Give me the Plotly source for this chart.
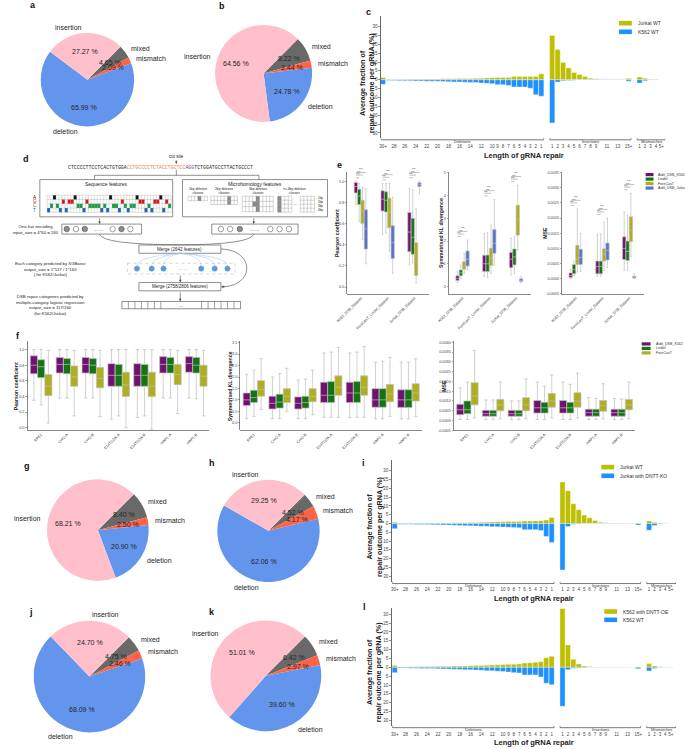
import math
import plotly.graph_objects as go

W, H = 685, 749
FONT = "Liberation Sans, Arial, Helvetica, sans-serif"
MONO = "Liberation Mono, DejaVu Sans Mono, monospace"

# ======================= DATA =======================
pie_labels = ["insertion", "deletion", "mismatch", "mixed"]
pie_colors = ["#FFC0CB", "#6495ED", "#FF6347", "#696969"]
pie_a = [27.27, 65.99, 2.09, 4.65]
pie_b = [64.56, 24.78, 2.44, 8.22]
pie_g = [68.21, 20.90, 2.50, 8.40]
pie_h = [29.25, 62.06, 4.17, 4.52]
pie_j = [24.70, 68.09, 2.46, 4.75]
pie_k = [51.01, 39.60, 2.97, 6.42]

del_cats = ["30+", "29", "28", "27", "26", "25", "24", "23", "22", "21", "20", "19", "18", "17", "16",
            "15", "14", "13", "12", "11", "10", "9", "8", "7", "6", "5", "4", "3", "2", "1"]
ins_cats = ["1", "2", "3", "4", "5", "6", "7", "8", "9", "10", "11", "12", "13", "14", "15+"]
mm_cats = ["1", "2", "3", "4", "5+"]
del_ticks = ["30+", "28", "26", "24", "22", "20", "18", "16", "14", "12", "10", "9", "8", "7", "6",
             "5", "4", "3", "2", "1"]
ins_ticks = ["1", "2", "3", "4", "5", "6", "7", "8", "9", "11", "13", "15+"]
mm_ticks = ["1", "2", "3", "4", "5+"]
group_names = ["Deletions", "Insertions", "Mismatches"]
bar_yticks = [-30, -25, -20, -15, -10, -5, 0, 5, 10, 15, 20, 25, 30]

# panel c
c_names = ["Jurkat WT", "K562 WT"]
c_up_del = [1.3, 0.15, 0.2, 0.2, 0.25, 0.3, 0.3, 0.35, 0.4, 0.4, 0.45, 0.5, 0.55, 0.6, 0.65,
            0.7, 0.75, 0.8, 0.9, 1.0, 1.2, 1.25, 1.3, 1.3, 1.9, 1.9, 1.9, 1.9, 1.9, 3.4]
c_dn_del = [-2.6, -0.4, -0.45, -0.5, -0.55, -0.6, -0.65, -0.7, -0.8, -0.85, -0.9, -1.0, -1.1, -1.2, -1.3,
            -1.4, -1.5, -1.6, -1.9, -2.0, -2.2, -2.8, -2.8, -3.2, -4.1, -4.1, -4.1, -4.8, -8.4, -9.3]
c_up_ins = [25.0, 17.0, 9.7, 6.7, 4.1, 3.0, 1.9, 0.9, 0.5, 0.3, 0.2, 0.15, 0.1, 0.1, 0.8]
c_dn_ins = [-24.4, -1.3, -0.5, -0.4, -0.3, -0.2, -0.15, -0.1, -0.1, -0.1, -0.1, -0.1, -0.1, -0.1, -0.8]
c_up_mm = [1.5, 0.8, 0.3, 0.1, 0.05]
c_dn_mm = [-1.9, -0.6, -0.2, -0.1, -0.05]

# panel i
i_names = ["Jurkat WT", "Jurkat with DNTT-KO"]
i_up_del = [0.8, 0.15, 0.15, 0.2, 0.2, 0.25, 0.25, 0.3, 0.3, 0.35, 0.35, 0.4, 0.45, 0.5, 0.55,
            0.6, 0.7, 0.8, 0.9, 1.0, 1.0, 1.1, 1.1, 1.2, 1.4, 1.5, 1.5, 1.6, 2.0, 3.5]
i_dn_del = [-3.0, -0.4, -0.4, -0.45, -0.5, -0.55, -0.6, -0.7, -0.75, -0.8, -0.9, -1.0, -1.1, -1.2, -1.3,
            -1.4, -1.5, -1.6, -1.8, -1.9, -2.0, -2.1, -2.2, -2.4, -3.5, -3.5, -3.5, -4.0, -7.4, -10.8]
i_up_ins = [23.7, 18.7, 11.3, 7.8, 4.8, 3.3, 1.7, 0.8, 0.4, 0.3, 0.2, 0.1, 0.1, 0.1, 0.2]
i_dn_ins = [-26.5, -1.7, -0.4, -0.3, -0.1, -0.1, -0.1, -0.1, -0.1, -0.1, -0.1, -0.1, -0.1, -0.1, -0.8]
i_up_mm = [1.5, 0.8, 0.3, 0.1, 0.05]
i_dn_mm = [-3.8, -1.1, -0.2, -0.1, -0.05]

# panel l
l_names = ["K562 with DNTT-OE", "K562 WT"]
l_up_del = [1.1, 0.2, 0.25, 0.3, 0.35, 0.4, 0.45, 0.5, 0.55, 0.6, 0.65, 0.7, 0.75, 0.8, 0.9,
            1.0, 1.1, 1.2, 1.3, 1.4, 1.6, 1.7, 1.8, 1.9, 2.4, 2.6, 2.8, 3.2, 5.4, 6.2]
l_dn_del = [-3.0, -0.4, -0.45, -0.5, -0.55, -0.6, -0.65, -0.7, -0.8, -0.9, -1.0, -1.1, -1.2, -1.3, -1.4,
            -1.5, -1.7, -1.9, -2.0, -2.2, -2.4, -2.7, -3.0, -3.2, -4.3, -4.3, -4.3, -5.4, -9.0, -9.8]
l_up_ins = [33.2, 12.6, 4.5, 1.9, 0.8, 0.4, 0.2, 0.1, 0.1, 0.1, 0.1, 0.1, 0.1, 0.1, 0.1]
l_dn_ins = [-22.0, -1.3, -0.5, -0.4, -0.3, -0.1, -0.1, -0.1, -0.1, -0.1, -0.1, -0.1, -0.1, -0.1, -0.8]
l_up_mm = [2.1, 0.8, 0.3, 0.1, 0.05]
l_dn_mm = [-2.1, -0.6, -0.2, -0.1, -0.05]

# panel e (box stats: lower whisker, q1, median, q3, upper whisker)
e_datasets = ["K562_DSB_Dataset", "ForeCasT_Lindel_Dataset", "Jurkat_DSB_Dataset"]
e_methods = ["Aidit_DSB_K562", "Lindel", "ForeCasT", "Aidit_DSB_Jurkat"]
e_pearson = {
    "Aidit_DSB_K562": [[0.78, 0.89, 0.95, 0.987, 1.0], [0.5, 0.72, 0.83, 0.91, 0.98], [0.21, 0.335, 0.52, 0.705, 0.93]],
    "Lindel": [[0.62, 0.78, 0.86, 0.925, 0.98], [0.51, 0.71, 0.82, 0.9, 0.98], [0.23, 0.31, 0.47, 0.65, 0.92]],
    "ForeCasT": [[0.45, 0.6, 0.72, 0.82, 0.94], [0.34, 0.56, 0.71, 0.84, 0.98], [0.04, 0.11, 0.24, 0.42, 0.74]],
    "Aidit_DSB_Jurkat": [[0.22, 0.36, 0.55, 0.73, 0.93], [0.13, 0.27, 0.42, 0.58, 0.85], [0.88, 0.95, 0.97, 0.985, 1.0]],
}
e_kl = {
    "Aidit_DSB_K562": [[0.17, 0.26, 0.35, 0.47, 0.65], [0.44, 0.66, 1.0, 1.37, 2.33], [0.51, 0.83, 1.2, 1.5, 2.11]],
    "Lindel": [[0.36, 0.47, 0.6, 0.73, 0.95], [0.39, 0.66, 1.0, 1.38, 2.36], [0.58, 0.95, 1.3, 1.65, 2.2]],
    "ForeCasT": [[0.58, 0.76, 0.9, 1.09, 1.46], [0.58, 0.92, 1.25, 1.68, 2.7], [1.6, 2.26, 2.95, 3.57, 4.45]],
    "Aidit_DSB_Jurkat": [[0.73, 0.9, 1.2, 1.56, 2.04], [0.95, 1.46, 1.9, 2.5, 3.83], [0.17, 0.22, 0.27, 0.34, 0.44]],
}
e_mse = {
    "Aidit_DSB_K562": [[0.0, 0.00004, 0.0001, 0.00019, 0.0003], [0.00008, 0.00016, 0.0004, 0.00058, 0.00147],
                       [0.00028, 0.00063, 0.001, 0.00138, 0.0022]],
    "Lindel": [[0.0001, 0.00016, 0.0003, 0.00047, 0.00058], [0.00008, 0.00016, 0.0004, 0.00058, 0.00148],
               [0.00028, 0.0006, 0.0009, 0.00124, 0.0021]],
    "ForeCasT": [[0.00022, 0.00047, 0.00065, 0.0011, 0.0023], [0.00027, 0.00058, 0.0008, 0.00099, 0.00186],
                 [0.00072, 0.00122, 0.0016, 0.00204, 0.00282]],
    "Aidit_DSB_Jurkat": [[0.00024, 0.00047, 0.0007, 0.00097, 0.0015], [0.00036, 0.00062, 0.00093, 0.00118, 0.002],
                         [0.0, 0.00002, 0.00005, 0.00008, 0.00016]],
}

# panel f
f_cells = ["RPE1", "CHO-A", "CHO-B", "E14TG2A-A", "E14TG2A-B", "HAP1-A", "HAP1-B"]
f_methods = ["Aidit_DSB_K562", "Lindel", "ForeCasT"]
f_pearson = {
    "Aidit_DSB_K562": [[0.35, 0.69, 0.80, 0.92, 1.0], [0.38, 0.70, 0.81, 0.90, 1.0], [0.38, 0.70, 0.81, 0.90, 1.0],
                       [0.11, 0.53, 0.67, 0.82, 1.0], [0.13, 0.53, 0.67, 0.82, 1.0], [0.38, 0.70, 0.81, 0.91, 1.0],
                       [0.38, 0.71, 0.82, 0.91, 1.0]],
    "Lindel": [[0.29, 0.64, 0.78, 0.87, 1.0], [0.38, 0.69, 0.81, 0.885, 1.0], [0.38, 0.69, 0.80, 0.885, 1.0],
               [0.15, 0.53, 0.67, 0.81, 1.0], [0.15, 0.53, 0.67, 0.81, 1.0], [0.38, 0.70, 0.81, 0.90, 1.0],
               [0.37, 0.70, 0.80, 0.90, 1.0]],
    "ForeCasT": [[0.06, 0.41, 0.53, 0.68, 0.99], [0.15, 0.53, 0.65, 0.79, 0.99], [0.14, 0.51, 0.63, 0.77, 0.99],
                 [0.0, 0.40, 0.55, 0.71, 1.0], [-0.02, 0.40, 0.53, 0.71, 1.0], [0.18, 0.55, 0.68, 0.81, 0.99],
                 [0.15, 0.53, 0.66, 0.80, 0.99]],
}
f_kl = {
    "Aidit_DSB_K562": [[0.18, 0.75, 1.0, 1.30, 2.12], [0.18, 0.60, 0.85, 1.16, 2.0], [0.18, 0.60, 0.85, 1.13, 1.87],
                       [0.24, 0.88, 1.2, 1.77, 3.05], [0.22, 0.88, 1.3, 1.77, 3.05], [0.17, 0.68, 1.0, 1.49, 2.65],
                       [0.17, 0.67, 1.0, 1.44, 2.65]],
    "Lindel": [[0.28, 0.88, 1.1, 1.42, 2.3], [0.18, 0.64, 0.9, 1.25, 2.15], [0.18, 0.64, 0.88, 1.16, 1.91],
               [0.24, 0.88, 1.2, 1.8, 3.09], [0.24, 0.88, 1.3, 1.8, 3.09], [0.17, 0.68, 1.0, 1.49, 2.69],
               [0.17, 0.67, 1.0, 1.44, 2.65]],
    "ForeCasT": [[0.57, 1.16, 1.45, 1.84, 2.8], [0.5, 0.88, 1.15, 1.49, 2.38], [0.35, 0.92, 1.15, 1.49, 2.3],
                 [0.24, 1.2, 1.55, 2.05, 3.29], [0.24, 1.2, 1.55, 2.05, 3.33], [0.28, 0.92, 1.25, 1.67, 2.86],
                 [0.28, 0.95, 1.3, 1.7, 2.8]],
}
f_mse = {
    "Aidit_DSB_K562": [[0.00005, 0.0003, 0.00055, 0.00083, 0.00167], [0.00005, 0.00022, 0.00035, 0.00052, 0.00105],
                       [0.00005, 0.00022, 0.00035, 0.00052, 0.001], [0.00005, 0.00038, 0.00065, 0.00102, 0.00197],
                       [0.00005, 0.00038, 0.00065, 0.00102, 0.00197], [0.00005, 0.00022, 0.0004, 0.00058, 0.00117],
                       [0.00005, 0.00022, 0.0004, 0.00058, 0.00113]],
    "Lindel": [[0.00005, 0.00035, 0.00055, 0.001, 0.00197], [0.00005, 0.00022, 0.00035, 0.00052, 0.00105],
               [0.00005, 0.00022, 0.00035, 0.00052, 0.001], [0.00005, 0.00038, 0.00065, 0.00093, 0.00175],
               [0.00005, 0.00038, 0.00065, 0.00093, 0.00185], [0.00005, 0.00022, 0.0004, 0.00058, 0.00113],
               [0.00005, 0.00022, 0.0004, 0.00058, 0.0011]],
    "ForeCasT": [[0.00013, 0.0008, 0.00125, 0.00193, 0.00358], [0.00008, 0.0005, 0.0008, 0.00108, 0.00197],
                 [0.00008, 0.0005, 0.0008, 0.00117, 0.00213], [0.00013, 0.00068, 0.001, 0.00138, 0.00233],
                 [0.00013, 0.00068, 0.001, 0.00142, 0.00242], [0.00008, 0.00047, 0.00075, 0.00102, 0.00188],
                 [0.00008, 0.00055, 0.0008, 0.00108, 0.00197]],
}

# panel d (schematic text)
seq_parts = [("CTCCCCTTCCTCACTGTGGA", "#222222"), ("CCTGCCCCTCTACCTGCTCC", "#E8833A"),
             ("AGG", "#7B3FA0"), ("TCTGGATGCCTTACTGCCCT", "#222222")]

# ======================= STYLE =======================
OLIVE = "#BFBF00"
BLUE = "#1E90FF"
METHOD_COLORS = {"Aidit_DSB_K562": "#701070", "Lindel": "#127512", "ForeCasT": "#AFAF1E",
                 "Aidit_DSB_Jurkat": "#5573CD"}

fig = go.Figure()
shapes = []
annotations = []
layout = dict(width=W, height=H, margin=dict(l=0, r=0, t=0, b=0), paper_bgcolor="white",
              plot_bgcolor="rgba(0,0,0,0)", showlegend=False, font=dict(family=FONT, color="#222"),
              barmode="overlay")


def px(x):
    return x / W


def py(y):
    return 1 - y / H


def text(x, y, t, size=5.0, color="#222", xanchor="center", yanchor="middle", bold=False, angle=0,
         family=FONT, xref="paper", yref="paper"):
    if bold:
        t = "<b>" + t + "</b>"
    annotations.append(dict(x=px(x) if xref == "paper" else x, y=py(y) if yref == "paper" else y,
                            xref=xref, yref=yref, text=t, showarrow=False, textangle=angle,
                            xanchor=xanchor, yanchor=yanchor,
                            font=dict(size=size, color=color, family=family)))


def axis_pair(n, x0, x1, y0, y1, xr, yr, xkw=None, ykw=None):
    xk = "xaxis" if n == 1 else "xaxis%d" % n
    yk = "yaxis" if n == 1 else "yaxis%d" % n
    xid = "x" if n == 1 else "x%d" % n
    yid = "y" if n == 1 else "y%d" % n
    base = dict(showgrid=False, zeroline=False, fixedrange=True)
    xa = dict(base, domain=[px(x0), px(x1)], anchor=yid, range=xr)
    xa.update(xkw or {})
    ya = dict(base, domain=[py(y1), py(y0)], anchor=xid, range=yr)
    ya.update(ykw or {})
    layout[xk] = xa
    layout[yk] = ya
    return xid, yid


def manual_legend(x_patch, y_rows, pw, ph, colors, names, fs, text_x):
    for yy, col, nm in zip(y_rows, colors, names):
        shapes.append(dict(type="rect", xref="paper", yref="paper", x0=px(x_patch), x1=px(x_patch + pw),
                           y0=py(yy + ph / 2), y1=py(yy - ph / 2), fillcolor=col, line=dict(width=0)))
        text(text_x, yy, nm, size=fs, color="#333", xanchor="left")


# ======================= PIES =======================
def add_pie(vals, cx, cy, r):
    # reference wedges run counter-clockwise from 45 deg: insertion, deletion, mismatch, mixed
    fig.add_trace(go.Pie(values=vals[::-1], labels=pie_labels[::-1],
                         marker=dict(colors=pie_colors[::-1], line=dict(width=0)),
                         sort=False, direction="clockwise", rotation=45, textinfo="none",
                         hoverinfo="label+percent", showlegend=False,
                         domain=dict(x=[px(cx - r), px(cx + r)], y=[py(cy + r), py(cy - r)])))
    total = float(sum(vals))
    cum = 0.0
    for lab, v in zip(pie_labels, vals):
        mid = math.radians(45 + 360.0 * (cum + v / 2.0) / total)
        cum += v
        text(cx + 0.6 * r * math.cos(mid), cy - 0.6 * r * math.sin(mid), "%.2f %%" % v, size=7, color="#262626")
        text(cx + 1.1 * r * math.cos(mid), cy - 1.1 * r * math.sin(mid), lab, size=7, color="#262626",
             xanchor="left" if math.cos(mid) > 0 else "right")


add_pie(pie_a, 77.7, 79.0, 47.5)
add_pie(pie_b, 256.7, 72.7, 49.3)
add_pie(pie_g, 88.3, 531.3, 51.7)
add_pie(pie_h, 261.7, 532.0, 52.0)
add_pie(pie_j, 79.7, 678.3, 56.7)
add_pie(pie_k, 259.0, 677.5, 56.3)

# ======================= BAR PANELS =======================
cat_groups = [del_cats, ins_cats, mm_cats]
tick_groups = [del_ticks, ins_ticks, mm_ticks]
positions, group_spans, tickvals, ticktext = [], [], [], []
start = 0
for cats, ticks in zip(cat_groups, tick_groups):
    pos = [start + k for k in range(len(cats))]
    positions += pos
    group_spans.append((pos[0], pos[-1]))
    for p, cname in zip(pos, cats):
        if cname in ticks:
            tickvals.append(p)
            ticktext.append(cname)
    start = pos[-1] + 2


def bar_panel(n, box, xr, yr, up, down, names, leg, ylab_xy, xlab_xy):
    x0, x1, y0, y1 = box
    xid, yid = axis_pair(
        n, x0, x1, y0, y1, xr, yr,
        xkw=dict(showline=False, ticks="", tickvals=tickvals, ticktext=ticktext, tickangle=0,
                 tickfont=dict(size=4.5, color="#444"), ticklabelstandoff=4),
        ykw=dict(showline=True, linecolor="#444", linewidth=0.8, ticks="outside", ticklen=1.5,
                 tickwidth=0.6, tickcolor="#444", tickvals=bar_yticks,
                 ticktext=[str(abs(v)) for v in bar_yticks], tickfont=dict(size=4.5, color="#444")))
    fig.add_trace(go.Bar(x=positions, y=up, xaxis=xid, yaxis=yid, name=names[0], width=0.95,
                         marker=dict(color=OLIVE, line=dict(color="white", width=0.4))))
    fig.add_trace(go.Bar(x=positions, y=down, xaxis=xid, yaxis=yid, name=names[1], width=0.95,
                         marker=dict(color=BLUE, line=dict(color="white", width=0.4))))
    yb = y1 + 1.6
    for gi, ((a, b), gname) in enumerate(zip(group_spans, group_names)):
        xa_ = max(a - 0.45, xr[0])
        xb_ = xr[1] if gi == len(group_spans) - 1 else b + 0.45
        shapes.append(dict(type="line", xref=xid, yref="paper", x0=xa_, x1=xb_, y0=py(yb), y1=py(yb),
                           line=dict(color="#555", width=0.8)))
        for xe in (xa_, xb_):
            shapes.append(dict(type="line", xref=xid, yref="paper", x0=xe, x1=xe, y0=py(yb), y1=py(yb - 1.8),
                               line=dict(color="#555", width=0.6)))
        annotations.append(dict(x=(xa_ + xb_) / 2, y=py(yb + 1.7), xref=xid, yref="paper", text=gname,
                                showarrow=False, xanchor="center", yanchor="middle",
                                font=dict(size=4.0, color="#333", family=FONT)))
    text(ylab_xy[0], ylab_xy[1], "Average fraction of<br>repair outcome per gRNA (%)", size=7.2, bold=True,
         angle=-90, color="#222")
    text(xlab_xy[0], xlab_xy[1], "Length of gRNA repair", size=7.5, bold=True, color="#222")
    manual_legend(leg[0], leg[1], 13, 4.6, [OLIVE, BLUE], names, 5.0, leg[0] + 17)


bar_panel(1, (375.7, 665.0, 15.0, 137.8), [-0.42, 51.72], [-33.0, 36.0],
          c_up_del + c_up_ins + c_up_mm, c_dn_del + c_dn_ins + c_dn_mm, c_names,
          (618.0, [22.3, 30.9]), (361.5, 82.0), (521.0, 155.0))
bar_panel(2, (386.7, 676.0, 460.7, 583.3), [-0.6, 52.0], [-33.3, 36.3],
          i_up_del + i_up_ins + i_up_mm, i_dn_del + i_dn_ins + i_dn_mm, i_names,
          (600.0, [468.0, 476.7]), (369.0, 528.0), (531.7, 600.0))
bar_panel(3, (386.7, 676.0, 609.3, 728.0), [-0.6, 52.0], [-33.2, 33.6],
          l_up_del + l_up_ins + l_up_mm, l_dn_del + l_dn_ins + l_dn_mm, l_names,
          (603.0, [613.0, 621.3]), (369.0, 674.0), (531.7, 744.3))

# ======================= BOX PANELS =======================
def box_panel(n, box, xr, yr, groups, methods, data, bw, yt, ytext, ylabel, ylabel_x, sig=False):
    x0, x1, y0, y1 = box
    xid, yid = axis_pair(
        n, x0, x1, y0, y1, xr, yr,
        xkw=dict(showline=True, linecolor="#555", linewidth=0.7, ticks="", tickvals=list(range(len(groups))),
                 ticktext=groups, tickangle=-45, tickfont=dict(size=3.8, color="#444")),
        ykw=dict(showline=True, linecolor="#555", linewidth=0.7, ticks="outside", ticklen=1.5, tickwidth=0.5,
                 tickcolor="#555", tickvals=yt, ticktext=ytext, tickfont=dict(size=3.8, color="#444")))
    nm = len(methods)
    offs = [(k - (nm - 1) / 2.0) * bw for k in range(nm)]
    for m, off in zip(methods, offs):
        st = data[m]
        fig.add_trace(go.Box(x=[g + off for g in range(len(groups))],
                             lowerfence=[s[0] for s in st], q1=[s[1] for s in st], median=[s[2] for s in st],
                             q3=[s[3] for s in st], upperfence=[s[4] for s in st],
                             width=bw * 0.98, whiskerwidth=0.5, boxpoints=False, name=m,
                             fillcolor=METHOD_COLORS[m], line=dict(color="#BDBDBD", width=0.7),
                             xaxis=xid, yaxis=yid))
    text(ylabel_x, (y0 + y1) / 2, ylabel, size=5.2, bold=True, angle=-90, color="#222")
    if sig:
        dpp = (yr[1] - yr[0]) / (y1 - y0)
        for g in range(len(groups)):
            top = max(data[m][g][4] for m in methods)
            for k in range(1, nm):
                yy = top + (3.5 + 2.6 * (k - 1)) * dpp
                shapes.append(dict(type="line", xref=xid, yref=yid, x0=g + offs[0], x1=g + offs[k], y0=yy, y1=yy,
                                   line=dict(color="#666", width=0.4)))
                annotations.append(dict(x=g + (offs[0] + offs[k]) / 2, y=yy, xref=xid, yref=yid, text="***",
                                        showarrow=False, yanchor="bottom", yshift=-1.6,
                                        font=dict(size=3.0, color="#444", family=FONT)))


box_panel(4, (341.7, 425.0, 171.7, 294.0), [-0.51, 2.55], [-0.063, 1.087], e_datasets, e_methods, e_pearson,
          0.125, [0.0, 0.2, 0.4, 0.6, 0.8, 1.0], ["0.0", "0.2", "0.4", "0.6", "0.8", "1.0"],
          "Pearson coefficient", 331.5, sig=True)
box_panel(5, (445.0, 528.3, 171.7, 294.0), [-0.51, 2.55], [-0.32, 5.03], e_datasets, e_methods, e_kl,
          0.125, [0, 1, 2, 3, 4, 5], ["0", "1", "2", "3", "4", "5"],
          "Symmetrised KL divergence", 437.0, sig=True)
box_panel(6, (560.0, 643.3, 171.7, 294.0), [-0.51, 2.55], [-0.0005, 0.00352], e_datasets, e_methods, e_mse,
          0.125, [-0.0005, 0.0, 0.0005, 0.001, 0.0015, 0.002, 0.0025, 0.003, 0.0035],
          ["-0.0005", "0.0000", "0.0005", "0.0010", "0.0015", "0.0020", "0.0025", "0.0030", "0.0035"],
          "MSE", 542.5, sig=True)
manual_legend(645.0, [174.3, 178.8, 183.3, 187.8], 8, 3.2, [METHOD_COLORS[m] for m in e_methods], e_methods,
              3.6, 655.5)

box_panel(7, (16.7, 201.7, 341.7, 431.0), [-0.53, 6.51], [-0.034, 1.106], f_cells, f_methods, f_pearson,
          0.28, [0.0, 0.2, 0.4, 0.6, 0.8, 1.0], ["0.0", "0.2", "0.4", "0.6", "0.8", "1.0"],
          "Pearson coefficient", 4.5)
box_panel(8, (233.0, 417.3, 341.7, 431.0), [-0.53, 6.51], [-0.33, 3.56], f_cells, f_methods, f_kl,
          0.28, [0.0, 0.5, 1.0, 1.5, 2.0, 2.5, 3.0, 3.5], ["0.0", "0.5", "1.0", "1.5", "2.0", "2.5", "3.0", "3.5"],
          "Symmetrised KL divergence", 222.0)
box_panel(9, (450.0, 634.0, 341.7, 431.0), [-0.53, 6.51], [-0.0005, 0.00405], f_cells, f_methods, f_mse,
          0.28, [-0.0005, 0.0, 0.0005, 0.001, 0.0015, 0.002, 0.0025, 0.003, 0.0035, 0.004],
          ["-0.0005", "0.0000", "0.0005", "0.0010", "0.0015", "0.0020", "0.0025", "0.0030", "0.0035", "0.0040"],
          "MSE", 440.0)
manual_legend(641.0, [344.3, 348.8, 353.3], 9, 3.2, [METHOD_COLORS[m] for m in f_methods], f_methods,
              3.6, 653.0)

# ======================= PANEL d (schematic) =======================
DX, DY = axis_pair(10, 0, 330, 150, 322, [0, 330], [322, 150],
                   xkw=dict(visible=False), ykw=dict(visible=False))


def dline(x0, y0, x1, y1, color="#444", w=0.6, dash=None):
    shapes.append(dict(type="line", xref=DX, yref=DY, x0=x0, y0=y0, x1=x1, y1=y1,
                       line=dict(color=color, width=w, dash=dash) if dash else dict(color=color, width=w)))


def drect(x0, y0, x1, y1, color="#444", w=0.6, fill="rgba(0,0,0,0)", dash=None):
    ln = dict(color=color, width=w)
    if dash:
        ln["dash"] = dash
    shapes.append(dict(type="rect", xref=DX, yref=DY, x0=x0, y0=y0, x1=x1, y1=y1, line=ln, fillcolor=fill))


def dcirc(cx, cy, r, fill, color="#444", w=0.5):
    shapes.append(dict(type="circle", xref=DX, yref=DY, x0=cx - r, x1=cx + r, y0=cy - r, y1=cy + r,
                       fillcolor=fill, line=dict(color=color, width=w)))


def dpath(path, color="#444", w=0.6):
    shapes.append(dict(type="path", xref=DX, yref=DY, path=path, line=dict(color=color, width=w)))


def dtext(x, y, t, size=4.5, color="#222", xanchor="center", family=FONT):
    annotations.append(dict(x=x, y=y, xref=DX, yref=DY, text=t, showarrow=False, xanchor=xanchor,
                            yanchor="middle", font=dict(size=size, color=color, family=family)))


def darrow(x0, y0, x1, y1, color="#444"):
    annotations.append(dict(x=x1, y=y1, ax=x0, ay=y0, xref=DX, yref=DY, axref=DX, ayref=DY, text="",
                            showarrow=True, arrowhead=2, arrowsize=0.8, arrowwidth=0.6, arrowcolor=color))


# cut site + sequence
dtext(168, 156, "cut site", 4.5)
darrow(168, 158.3, 168, 163.6)
seq_html = "".join('<span style="color:%s">%s</span>' % (c, s) for s, c in seq_parts)
dtext(152, 166.8, seq_html, 4.9, family=MONO)
dline(168, 169.5, 168, 175)
dline(85, 175, 252, 175)
dline(85, 175, 85, 179.3)
dline(252, 175, 252, 179.3)

# sequence features box with one-hot grid
drect(29.3, 179.3, 164.3, 216.7)
dtext(96.8, 184.0, "Sequence features", 5.0)
bases = "AGCT"
base_cols = {"A": "#111111", "G": "#E01010", "C": "#10A040", "T": "#1565C0"}
full_seq = "".join(s for s, _ in seq_parts)
gx0, gy0, cw, ch = 36.7, 195.0, 3.0, 4.3
for j, ch_ in enumerate(full_seq[10:52]):
    r_ = bases.index(ch_)
    drect(gx0 + j * cw, gy0 + r_ * ch, gx0 + (j + 1) * cw, gy0 + (r_ + 1) * ch, color="rgba(0,0,0,0)", w=0,
          fill=base_cols[ch_])
for j in range(43):
    dline(gx0 + j * cw, gy0, gx0 + j * cw, gy0 + 4 * ch, color="#999", w=0.3)
for r_ in range(5):
    dline(gx0, gy0 + r_ * ch, gx0 + 42 * cw, gy0 + r_ * ch, color="#999", w=0.3)
for r_, b in enumerate(bases):
    dtext(24.0, gy0 + (r_ + 0.5) * ch, b, 4.5, color=base_cols[b])

# microhomology features box
drect(174.3, 179.3, 321.7, 216.7)
dtext(248.0, 184.0, "Microhomology features", 5.0)


def mgrid(x0, y0, cols, rows, cw_, ch_, dark):
    for (rr, cc) in dark:
        drect(x0 + cc * cw_, y0 + rr * ch_, x0 + (cc + 1) * cw_, y0 + (rr + 1) * ch_, color="rgba(0,0,0,0)", w=0,
              fill="#8C8C8C")
    for cc in range(cols + 1):
        dline(x0 + cc * cw_, y0, x0 + cc * cw_, y0 + rows * ch_, color="#777", w=0.3)
    for rr in range(rows + 1):
        dline(x0, y0 + rr * ch_, x0 + cols * cw_, y0 + rr * ch_, color="#777", w=0.3)


mgrid(180, 196, 6, 1, 3.3, 4.5, [(0, 3)])
dtext(190, 190.5, "1bp deletion<br>classes", 3.3)
mgrid(203, 196, 8, 2, 3.4, 4.2, [(0, 5), (1, 5)])
dtext(216.6, 190.5, "2bp deletion<br>classes", 3.3)
mgrid(235, 196, 9, 3, 3.5, 5.2, [(0, 4), (1, 4), (2, 4), (1, 3)])
dtext(250.7, 190.5, "3bp deletion<br>classes", 3.3)
mgrid(271, 196, 4, 4, 3.6, 4.0, [(0, 0), (1, 0), (2, 0), (3, 0)])
dtext(289.5, 203.5, "...", 4.0)
mgrid(294, 196, 4, 4, 3.6, 4.0, [])
dtext(288.0, 190.5, ">= 4bp deletion<br>classes", 3.3)
for r_, lab in enumerate(["1bp", "2bp", "3bp", "4bp"]):
    dtext(309.5, 198.0 + 4.0 * r_, lab, 3.0, xanchor="left")

# encoded vectors
drect(51.7, 224, 132.7, 234)
for cx_, fill in [(56.7, "#8C8C8C"), (66.0, "white"), (75.0, "#8C8C8C"), (103.3, "white"), (112.3, "#8C8C8C"),
                  (121.3, "white")]:
    dcirc(cx_, 229, 2.8, fill)
dtext(89.5, 229, "--- ---", 4.0)
drect(204, 224, 291.7, 234)
for cx_, fill in [(213.3, "white"), (222.7, "white"), (232.5, "#8C8C8C"), (263.5, "white"), (273.0, "white"),
                  (282.5, "white")]:
    dcirc(cx_, 229, 2.8, fill)
dtext(247.5, 229, "--- ---", 4.0)
dtext(25, 229, "One-hot encoding<br>input_size = 4*60 = 240", 4.3)
darrow(90, 216.7, 90, 223.8)
darrow(246.7, 216.7, 246.7, 223.8)

# merge 1
dpath("M 90 234 Q 92 244.5 171.7 244.8")
dpath("M 246.7 234 Q 244 244.5 171.7 244.8")
drect(130, 245, 213.3, 253.3)
dtext(171.7, 249.2, "Merge (2642 features)", 4.5)

# XGBoost layer
drect(118.3, 263.3, 227.7, 274, color="#AAAAAA", w=0.5, dash="dot")
for cx_ in [128.0, 143.0, 155.0, 193.3, 207.0, 220.0]:
    dpath("M 172.3 253.3 Q %.1f 256.5 %.1f 266" % (cx_, cx_), color="#9DC3E6", w=0.5)
    dcirc(cx_, 268.7, 2.7, "#5B9BD5", color="#5B9BD5")
dtext(174.5, 268.7, "--- ---", 4.0, color="#5B9BD5")
dtext(40, 268.8, "Each category predicted by XGBoost<br>output_size = 1*117 / 1*160<br>( for K562/Jurkat)", 4.3)
darrow(172, 274, 172, 282.4)

# merge 2
drect(130, 282.7, 213.3, 291)
dtext(171.7, 286.9, "Merge (2758/2806 features)", 4.5)
dpath("M 213.3 249 C 248 250 248 286 215 287")
darrow(219, 286.9, 213.6, 286.9)
darrow(172, 291, 172, 301.4)

# output vector
drect(112.7, 301.7, 233.3, 309)
for k in range(1, 7):
    dline(112.7 + 6.6 * k, 301.7, 112.7 + 6.6 * k, 309, w=0.5)
for k in range(0, 6):
    dline(193.7 + 6.6 * k, 301.7, 193.7 + 6.6 * k, 309, w=0.5)
dtext(173, 305.3, "...", 4.5)
dtext(40, 305.0, "DSB repair categories predicted by<br>multiple-category logistic regression<br>"
                 "output_size = 117/160<br>(for K562/Jurkat)", 4.3)

# ======================= PANEL LETTERS =======================
for lt, (lx, ly) in {"a": (22.5, 4.5), "b": (214.5, 5.0), "c": (363.5, 11.5), "d": (15.0, 158.5),
                     "e": (333.5, 165.0), "f": (7.5, 336.0), "g": (16.5, 467.0), "h": (204.5, 463.5),
                     "i": (358.5, 463.5), "j": (20.0, 613.0), "k": (204.5, 613.0), "l": (359.5, 608.5)}.items():
    text(lx, ly, lt, size=9, bold=True, color="#111")

layout["shapes"] = shapes
layout["annotations"] = annotations
fig.update_layout(**layout)
fig.write_html("out.html", config={"displayModeBar": False, "staticPlot": True},
               post_script="document.body.style.margin='0px';document.body.style.padding='0px';")
